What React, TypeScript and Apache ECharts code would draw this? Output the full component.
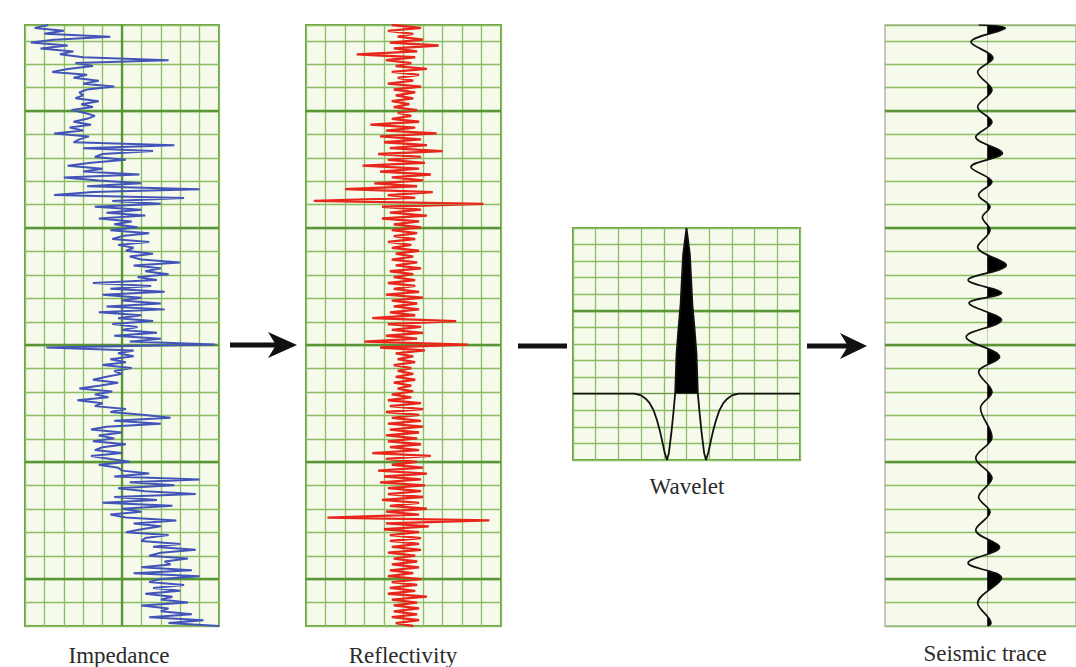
import { useEffect, useRef } from "react";
import * as echarts from "echarts";

// Impedance log, in grid columns (0 = left border, 10 = right border), top to bottom
const impedance: number[] = [
  1.2, 0.5, 2.0, 1.0, 4.4, 1.5, 0.3, 2.2,
  0.8, 2.5, 1.8, 3.0, 7.4, 2.6, 3.5, 2.2,
  1.4, 3.2, 2.5, 3.8, 3.0, 4.6, 3.2, 2.8,
  3.0, 2.6, 3.8, 2.9, 3.5, 2.4, 3.1, 3.6,
  3.2, 2.5, 3.4, 2.3, 3.0, 1.5, 3.3, 2.8,
  2.5, 7.7, 3.0, 6.6, 4.0, 3.6, 5.2, 3.4,
  2.2, 4.0, 3.0, 5.9, 2.0, 3.8, 6.0, 3.2,
  9.0, 3.5, 1.5, 8.2, 4.5, 7.0, 3.6, 6.0,
  4.2, 6.2, 3.8, 5.5, 4.6, 5.8, 4.4, 6.4,
  5.0, 4.5, 6.4, 4.8, 5.6, 5.2, 6.6, 5.4,
  6.0, 8.0, 5.6, 7.0, 6.2, 7.4, 5.8, 6.8,
  3.5, 6.5, 4.4, 7.2, 4.0, 6.0, 5.0, 7.0,
  4.2, 7.2, 3.8, 6.0, 4.8, 6.6, 4.5, 5.8,
  5.0, 6.8, 4.6, 7.0, 5.4, 9.8, 1.1, 5.6,
  4.8, 5.6, 4.4, 5.2, 4.0, 5.5, 4.6, 5.0,
  4.2, 3.5, 4.8, 3.9, 2.8, 4.5, 3.6, 4.3,
  2.7, 4.0, 3.6, 5.2, 4.4, 6.2, 7.5, 4.6,
  7.0, 4.2, 3.4, 5.0, 3.8, 4.6, 3.5, 5.2,
  4.0, 3.6, 5.0, 3.4, 4.4, 5.4, 3.8, 4.8,
  5.0, 6.4, 4.6, 9.0, 5.4, 7.7, 4.8, 6.2,
  8.8, 4.6, 6.8, 4.0, 7.6, 5.0, 6.0, 4.4,
  5.2, 7.8, 5.6, 7.0, 6.0, 5.2, 7.4, 6.2,
  6.0, 8.0, 6.6, 8.8, 7.0, 6.4, 8.4, 7.2,
  7.5, 6.0, 8.6, 5.6, 9.0, 7.0, 6.4, 8.2,
  6.6, 8.0, 6.2, 7.6, 7.0, 8.4, 6.0, 7.4,
  7.0, 8.6, 6.4, 9.2, 7.4, 10.0,
];

// Reflectivity, in grid columns from the panel centre, top to bottom
const reflectivity: number[] = [
  -0.6, 0.9, -0.8, 0.5, -0.3, 1.0, -0.7, 1.8,
  -0.5, 0.7, -2.4, 0.6, -0.9, 0.4, -0.4, 1.2,
  -0.6, 0.8, -0.3, 0.5, -0.8, 0.9, -0.5, 0.6,
  -0.4, 0.5, -0.6, 0.3, -0.5, 0.7, -0.3, 0.4,
  -0.6, 0.8, -1.7, 0.6, -0.9, 1.7, -1.2, 0.9,
  -1.0, 1.2, -0.7, 2.0, -1.3, 0.9, -0.8, 1.1,
  -2.1, 0.8, -1.2, 1.4, -0.6, 1.0, -1.5, 0.7,
  -3.0, 1.5, -0.8, 0.6, -4.6, 4.1, -1.1, 0.9,
  -0.7, 1.2, -1.1, 0.8, -0.5, 0.9, -0.6, 0.7,
  -0.5, 0.6, -0.8, 0.4, -0.6, 0.8, -0.4, 0.5,
  -0.6, 0.7, -0.4, 0.9, -0.7, 0.5, -0.5, 0.6,
  -0.8, 0.6, -0.5, 0.8, -0.9, 1.0, -0.6, 0.7,
  -0.5, 0.8, -0.7, 0.6, -1.6, 2.7, -0.8, 0.9,
  -0.6, 1.0, -0.9, 0.7, -2.0, 3.3, -1.2, 1.1,
  -0.4, 0.5, -0.3, 0.6, -0.5, 0.4, -0.3, 0.5,
  -0.4, 0.6, -0.5, 0.4, -0.3, 0.5, -0.6, 0.4,
  -0.8, 0.9, -0.7, 1.0, -0.9, 0.8, -0.6, 0.9,
  -0.8, 1.0, -0.7, 0.8, -0.9, 0.7, -0.8, 0.9,
  -0.7, 0.8, -1.6, 1.4, -0.9, 0.7, -0.6, 1.0,
  -1.3, 1.2, -1.0, 0.9, -1.2, 1.1, -0.8, 0.9,
  -0.8, 1.0, -1.1, 0.8, -0.7, 1.2, -0.9, 0.8,
  -3.9, 4.4, -0.9, 1.3, -1.0, 0.8, -0.7, 0.9,
  -0.7, 0.8, -0.6, 0.9, -0.8, 0.6, -0.5, 0.7,
  -0.6, 0.8, -0.7, 0.5, -0.8, 0.9, -0.6, 0.7,
  -0.7, 0.6, -0.8, 1.2, -0.6, 0.7, -0.5, 0.8,
  -0.5, 0.7, -0.6, 0.8, -0.4, 0.5,
];

// Wavelet: time (grid columns from centre) and amplitude (grid rows above baseline)
const waveletTime: number[] = [
  -5, -2.3, -2.0, -1.8, -1.63, -1.45, -1.3, -1.18, -1.08, -0.97, -0.86, -0.78, -0.67, -0.58, -0.5,
  -0.44, -0.35, -0.26, -0.15, 0, 0.15, 0.26, 0.35, 0.44,
  0.5, 0.58, 0.67, 0.78, 0.86, 0.97, 1.08, 1.18, 1.3, 1.45, 1.63, 1.8, 2.0, 2.3, 5,
];
const waveletAmp: number[] = [
  0, 0, -0.1, -0.3, -0.55, -1.0, -1.6, -2.2, -2.8, -3.5, -4.0, -3.6, -2.4, -1.2, 0,
  2.4, 4.0, 5.4, 8.4, 10, 8.4, 5.4, 4.0, 2.4,
  0, -1.2, -2.4, -3.6, -4.0, -3.5, -2.8, -2.2, -1.6, -1.0, -0.55, -0.3, -0.1, 0, 0,
];

// Seismic trace: depth (grid rows from top) and amplitude (tens of pixels from trace centre)
const traceDepth: number[] = [
  0, 0.13, 0.73, 1.41, 2.01, 2.78, 3.5, 4.15, 4.79, 5.47, 6.07, 6.71, 7.26, 7.78, 8.21, 8.76,
  9.49, 10.26, 10.9, 11.45, 11.88, 12.61, 13.33, 14.19, 14.83, 15.68, 16.37, 17.61, 18.5,
  19.36, 20.17, 20.81, 21.58, 22.31, 22.99, 23.63, 24.7, 25.56, 25.68,
];
const traceAmp: number[] = [
  -0.9, 1.9, -1.7, 0.6, -1.0, 0.5, -1.0, 0.5, -1.2, 1.6, -1.7, 0.5, -0.9, 0.3, -0.5, 0.3,
  -1.0, 2.0, -2.0, 1.5, -1.9, 1.5, -2.2, 1.3, -0.9, 0.5, -0.7, 0.5, -1.2,
  0.5, -0.9, 0.3, -1.2, 1.3, -2.0, 1.5, -1.0, 0.4, 0.1,
];

const thickRows: number[] = [2, 7, 12, 17, 22];
const impedanceThickCols: number[] = [5];
const waveletThickRows: number[] = [5];
const panelLabels: string[] = ["Impedance", "Reflectivity", "Wavelet", "Seismic trace"];

const ROWS = 25.68;
const PANEL = "#f5faeb";
const THIN = "#8abd64";
const THICK = "#5a9536";
const BORDER = "#67a240";

const hidden = {
  axisLine: { show: false },
  axisTick: { show: false },
  axisLabel: { show: false },
};
const gridLine = { show: true, lineStyle: { color: THIN, width: 1.3 } };

function markers(xIdx: number, yIdx: number, rows: number[], cols: number[]) {
  return {
    type: "line",
    xAxisIndex: xIdx,
    yAxisIndex: yIdx,
    data: [[0, 0]],
    symbol: "none",
    lineStyle: { opacity: 0 },
    silent: true,
    markLine: {
      silent: true,
      z: 1,
      symbol: ["none", "none"],
      label: { show: false },
      lineStyle: { color: THICK, width: 2.3, type: "solid" },
      emphasis: { disabled: true },
      data: [...rows.map((v) => ({ yAxis: v })), ...cols.map((v) => ({ xAxis: v }))],
    },
  };
}

export default function App() {
  const ref = useRef<HTMLDivElement>(null);

  useEffect(() => {
    if (!ref.current) return;
    const chart = echarts.init(ref.current, undefined, { renderer: "svg" });

    const labelStyle = (x: number, y: number, text: string) => ({
      type: "text",
      x,
      y,
      style: {
        text,
        fill: "#2b2b2b",
        font: '23px "Liberation Serif", "Times New Roman", serif',
        align: "center",
        verticalAlign: "middle",
      },
    });

    const option: any = {
      animation: false,
      backgroundColor: "#ffffff",
      grid: [
        { left: 25, top: 25, width: 194, height: 601, show: true, backgroundColor: PANEL, borderColor: BORDER, borderWidth: 2 },
        { left: 306, top: 25, width: 195, height: 601, show: true, backgroundColor: PANEL, borderColor: BORDER, borderWidth: 2 },
        { left: 573, top: 228, width: 227, height: 232, show: true, backgroundColor: PANEL, borderColor: BORDER, borderWidth: 2 },
        { left: 885, top: 25, width: 200, height: 601, show: true, backgroundColor: PANEL, borderColor: "#b4b4b4", borderWidth: 1.5 },
      ],
      xAxis: [
        { gridIndex: 0, type: "value", min: 0, max: 10, interval: 1, splitLine: gridLine, ...hidden },
        { gridIndex: 1, type: "value", min: -5, max: 5, interval: 1, splitLine: gridLine, ...hidden },
        { gridIndex: 2, type: "value", min: -5, max: 5, interval: 1, splitLine: gridLine, ...hidden },
        { gridIndex: 3, type: "value", min: -10.7, max: 9.3, splitLine: { show: false }, ...hidden },
      ],
      yAxis: [
        { gridIndex: 0, type: "value", min: 0, max: ROWS, interval: 1, splitLine: gridLine, ...hidden },
        { gridIndex: 0, type: "category", inverse: true, boundaryGap: false, data: impedance.map((_, i) => String(i)), splitLine: { show: false }, ...hidden },
        { gridIndex: 1, type: "value", min: 0, max: ROWS, interval: 1, splitLine: gridLine, ...hidden },
        { gridIndex: 1, type: "category", inverse: true, boundaryGap: false, data: reflectivity.map((_, i) => String(i)), splitLine: { show: false }, ...hidden },
        { gridIndex: 2, type: "value", min: -4, max: 10, interval: 1, splitLine: gridLine, ...hidden },
        { gridIndex: 3, type: "value", min: 0, max: ROWS, interval: 1, splitLine: gridLine, ...hidden },
        { gridIndex: 3, type: "time", inverse: true, min: 0, max: ROWS, splitLine: { show: false }, ...hidden },
      ],
      visualMap: [
        {
          type: "piecewise",
          show: false,
          seriesIndex: 4,
          dimension: 1,
          pieces: [{ min: 0, max: 1000, color: "#000000" }],
          outOfRange: { color: "rgba(0,0,0,0)" },
        },
        {
          type: "piecewise",
          show: false,
          seriesIndex: 6,
          dimension: 0,
          pieces: [{ min: 0, max: 1000, color: "#000000" }],
          outOfRange: { color: "rgba(0,0,0,0)" },
        },
      ],
      series: [
        {
          type: "line",
          xAxisIndex: 0,
          yAxisIndex: 1,
          data: impedance,
          symbol: "none",
          z: 3,
          lineStyle: { color: "#4354b8", width: 2 },
        },
        markers(0, 0, thickRows, impedanceThickCols),
        {
          type: "line",
          xAxisIndex: 1,
          yAxisIndex: 3,
          data: reflectivity,
          symbol: "none",
          z: 3,
          lineStyle: { color: "#e8261c", width: 2.3 },
        },
        markers(1, 2, thickRows, []),
        {
          type: "line",
          xAxisIndex: 2,
          yAxisIndex: 4,
          data: waveletTime.map((t, i) => [t, waveletAmp[i]]),
          symbol: "none",
          z: 3,
          lineStyle: { color: "#111111", width: 1.8 },
          areaStyle: { opacity: 1 },
        },
        markers(2, 4, waveletThickRows, []),
        {
          type: "line",
          xAxisIndex: 3,
          yAxisIndex: 6,
          data: traceDepth.map((d, i) => [traceAmp[i], d]),
          symbol: "none",
          smooth: 0.35,
          z: 3,
          lineStyle: { color: "#111111", width: 1.7 },
          areaStyle: { opacity: 1 },
        },
        markers(3, 5, thickRows, []),
      ],
      graphic: [
        { type: "line", shape: { x1: 230, y1: 345, x2: 284, y2: 345 }, style: { stroke: "#111", lineWidth: 5 } },
        { type: "polygon", shape: { points: [[297, 345], [268, 332], [276, 345], [268, 358]] }, style: { fill: "#111" } },
        { type: "line", shape: { x1: 518, y1: 346, x2: 567, y2: 346 }, style: { stroke: "#111", lineWidth: 5 } },
        { type: "line", shape: { x1: 807, y1: 346, x2: 855, y2: 346 }, style: { stroke: "#111", lineWidth: 5 } },
        { type: "polygon", shape: { points: [[867, 346], [840, 333], [848, 346], [840, 359]] }, style: { fill: "#111" } },
        labelStyle(119, 655, panelLabels[0]),
        labelStyle(403, 655, panelLabels[1]),
        labelStyle(687, 486, panelLabels[2]),
        labelStyle(985, 653, panelLabels[3]),
      ],
    };

    chart.setOption(option);
    return () => chart.dispose();
  }, []);

  return (
    <div
      ref={ref}
      style={{ position: "absolute", left: 0, top: 0, width: 1076, height: 667 }}
    />
  );
}
